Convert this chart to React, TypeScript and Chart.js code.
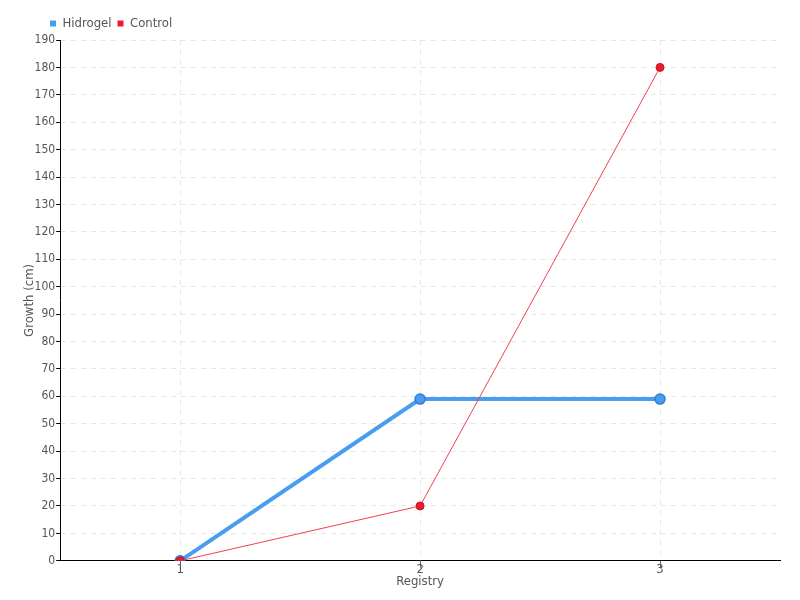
import React, { useEffect, useRef } from "react";
import { Chart, registerables } from "chart.js";

Chart.register(...registerables);

const categories = ["1", "2", "3"];
const hidrogel = [0, 59, 59];
const control = [0, 20, 180];

const FONT = "'DejaVu Sans Condensed', 'DejaVu Sans', sans-serif";

const legendShift = {
  id: "legendShift",
  beforeDraw(chart: any) {
    const lg = chart.legend;
    if (lg) {
      const w = lg.right - lg.left;
      lg.left = 44;
      lg.right = 44 + w;
    }
  },
};

export default function App() {
  const ref = useRef<HTMLCanvasElement>(null);
  useEffect(() => {
    if (!ref.current) return;
    const chart = new Chart(ref.current, {
      type: "line",
      data: {
        labels: categories,
        datasets: [
          {
            label: "Hidrogel",
            data: hidrogel,
            order: 1,
            borderColor: "#4a9cf0",
            backgroundColor: "#4a9cf0",
            pointBackgroundColor: "#4a9cf0",
            pointBorderColor: "#2f7fd6",
            pointBorderWidth: 1.5,
            borderWidth: 4,
            pointRadius: 5,
            tension: 0,
          },
          {
            label: "Control",
            data: control,
            order: 0,
            borderColor: "#f04050",
            backgroundColor: "#e81c2c",
            pointBackgroundColor: "#e81c2c",
            pointBorderColor: "#d01020",
            borderWidth: 1,
            pointRadius: 4,
            tension: 0,
          },
        ],
      },
      plugins: [legendShift],
      options: {
        responsive: false,
        animation: false,
        layout: { padding: { left: 20, right: 20, top: 11, bottom: 11 } },
        plugins: {
          legend: {
            position: "top",
            align: "start",
            labels: {
              boxWidth: 6,
              boxHeight: 6,
              padding: 6,
              color: "#555",
              font: { family: FONT, size: 13 },
              sort: (a: any, b: any) => a.datasetIndex - b.datasetIndex,
              generateLabels: (c: any) =>
                Chart.defaults.plugins.legend.labels
                  .generateLabels(c)
                  .map((l: any) => ({
                    ...l,
                    lineWidth: 0,
                    fillStyle: c.data.datasets[l.datasetIndex].pointBackgroundColor,
                  })),
            },
          },
          tooltip: { enabled: false },
        },
        scales: {
          x: {
            offset: true,
            grid: {
              offset: false,
              color: "#e6e6e6",
              tickColor: "#666",
              tickLength: 7,
            },
            border: { color: "#000", dash: [5, 5], width: 1 },
            ticks: { color: "#555", font: { family: FONT, size: 13 }, padding: -6 },
            title: {
              display: true,
              text: "Registry",
              color: "#555",
              font: { family: FONT, size: 13 },
              padding: { top: 2, bottom: 0 },
            },
          },
          y: {
            min: 0,
            max: 190,
            grid: {
              color: "#e6e6e6",
              tickColor: "#000",
              tickLength: 4,
            },
            border: { color: "#000", dash: [5, 5], width: 1 },
            ticks: {
              stepSize: 10,
              color: "#555",
              font: { family: FONT, size: 12 },
              padding: 1,
            },
            title: {
              display: true,
              text: "Growth (cm)",
              color: "#555",
              font: { family: FONT, size: 13 },
              padding: { top: 2, bottom: -4 },
            },
          },
        },
      },
    });
    return () => chart.destroy();
  }, []);
  return (
    <canvas
      ref={ref}
      width={800}
      height={600}
      style={{ display: "block", position: "absolute", left: 0, top: 0 }}
    />
  );
}
